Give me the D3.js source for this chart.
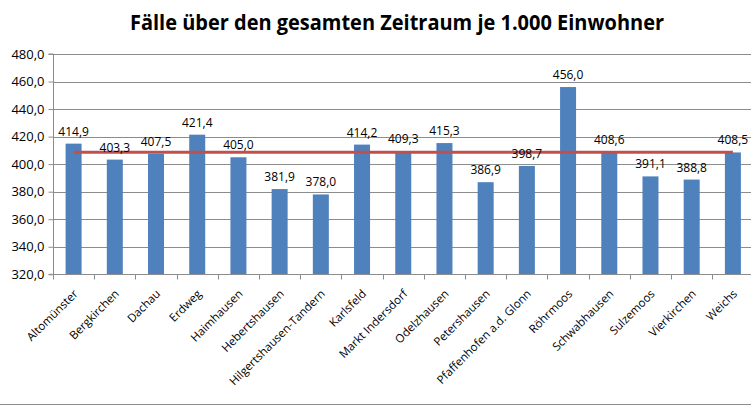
<!DOCTYPE html>
<html>
<head>
<meta charset="utf-8">
<script src="https://cdn.jsdelivr.net/npm/d3@7"></script>
<style>
  body { margin: 0; background: #fff; }
  svg { display: block; }
</style>
</head>
<body>
<div id="chart"></div>
<script>
// Gemeinden im Landkreis Dachau
const gemeinden = ["Altomünster", "Bergkirchen", "Dachau", "Erdweg", "Haimhausen", "Hebertshausen",
  "Hilgertshausen-Tandern", "Karlsfeld", "Markt Indersdorf", "Odelzhausen", "Petershausen",
  "Pfaffenhofen a.d. Glonn", "Röhrmoos", "Schwabhausen", "Sulzemoos", "Vierkirchen", "Weichs"];
const faelle = [414.9, 403.3, 407.5, 421.4, 405.0, 381.9, 378.0, 414.2, 409.3, 415.3, 386.9,
  398.7, 456.0, 408.6, 391.1, 388.8, 408.5];
const durchschnitt = [408.7];
const yTicks = [320, 340, 360, 380, 400, 420, 440, 460, 480];

const W = 751, H = 406;
const dim = { left: 53, right: 753.5, top: 54, bottom: 274.3 };

var svg = d3.select("#chart").append("svg").attr("width", W).attr("height", H);

var fmt = function (v) { return v.toFixed(1).replace(".", ","); };

var x = d3.scaleBand().domain(gemeinden).range([dim.left, dim.right]).padding(0);
var y = d3.scaleLinear().domain([320, 480]).range([dim.bottom, dim.top]);

// title
svg.append("text")
  .attr("x", 397)
  .attr("y", 29.5)
  .attr("text-anchor", "middle")
  .attr("textLength", 534)
  .attr("lengthAdjust", "spacingAndGlyphs")
  .style("font-family", "Open Sans")
  .style("font-weight", "bold")
  .style("font-size", "21px")
  .text("Fälle über den gesamten Zeitraum je 1.000 Einwohner");

// gridlines
svg.append("g")
  .selectAll("line")
  .data(yTicks.slice(1))
  .enter()
  .append("line")
  .attr("x1", dim.left)
  .attr("x2", dim.right)
  .attr("y1", function (d) { return Math.round(y(d)) + 0.5; })
  .attr("y2", function (d) { return Math.round(y(d)) + 0.5; })
  .style("stroke", "#8c8c8c")
  .style("stroke-width", 1);

// y axis
var yAxis = svg.append("g")
  .attr("transform", "translate(" + (dim.left + 0.5) + ",0)")
  .call(d3.axisLeft(y).tickValues(yTicks).tickFormat(fmt).tickSize(5).tickPadding(4));
yAxis.selectAll("path, line").style("stroke", "#8c8c8c");
yAxis.selectAll("text")
  .style("font-family", "Open Sans")
  .style("font-size", "13px")
  .style("fill", "#000");
yAxis.select(".domain").attr("d", "M-5," + y(480) + "H0V" + y(320) + "H-5");

// bars
var barW = 16;
svg.append("g")
  .selectAll("rect")
  .data(gemeinden)
  .enter()
  .append("rect")
  .attr("x", function (d) { return x(d) + x.bandwidth() / 2 - barW / 2; })
  .attr("y", function (d, i) { return y(faelle[i]); })
  .attr("width", barW)
  .attr("height", function (d, i) { return y(320) - y(faelle[i]); })
  .style("fill", "#4f81bd");

// x axis
var xAxis = svg.append("g").attr("transform", "translate(0," + (Math.round(dim.bottom) + 0.5) + ")");
xAxis.append("line")
  .attr("x1", dim.left).attr("x2", dim.right)
  .style("stroke", "#8c8c8c");
xAxis.selectAll(".tick")
  .data(gemeinden.concat(["end"]))
  .enter()
  .append("line")
  .attr("x1", function (d, i) { return Math.round(dim.left + i * x.step()) + 0.5; })
  .attr("x2", function (d, i) { return Math.round(dim.left + i * x.step()) + 0.5; })
  .attr("y1", 0).attr("y2", 5)
  .style("stroke", "#8c8c8c");
xAxis.selectAll("text")
  .data(gemeinden)
  .enter()
  .append("text")
  .attr("text-anchor", "end")
  .attr("transform", function (d) {
    return "translate(" + (x(d) + x.bandwidth() / 2 + 5) + ",20) rotate(-45)";
  })
  .style("font-family", "Open Sans")
  .style("font-size", "11.5px")
  .style("fill", "#000")
  .text(function (d) { return d; });

// average line
svg.append("line")
  .attr("x1", x(gemeinden[0]) + x.bandwidth() / 2)
  .attr("x2", x(gemeinden[gemeinden.length - 1]) + x.bandwidth() / 2)
  .attr("y1", y(durchschnitt[0]))
  .attr("y2", y(durchschnitt[0]))
  .style("stroke", "#c0504d")
  .style("stroke-width", 3);

// data labels
svg.append("g")
  .selectAll("text")
  .data(gemeinden)
  .enter()
  .append("text")
  .attr("x", function (d) { return x(d) + x.bandwidth() / 2; })
  .attr("y", function (d, i) { return y(faelle[i]) - 8; })
  .attr("text-anchor", "middle")
  .style("font-family", "Open Sans")
  .style("font-size", "12px")
  .style("fill", "#000")
  .text(function (d, i) { return fmt(faelle[i]); });

// bottom frame line
svg.append("line")
  .attr("x1", 0).attr("x2", W)
  .attr("y1", 404.5).attr("y2", 404.5)
  .style("stroke", "#8c8c8c");
</script>
</body>
</html>
